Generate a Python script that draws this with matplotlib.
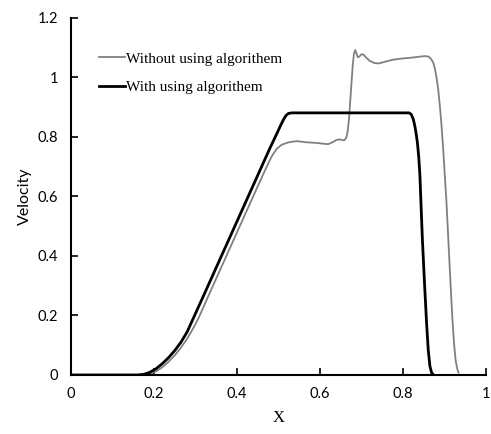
import matplotlib.pyplot as plt

# with algorithm (black)
x_with = [0.0, 0.16, 0.175, 0.19, 0.205, 0.22, 0.235, 0.25, 0.265, 0.28, 0.293,
          0.32, 0.36, 0.40, 0.44, 0.48, 0.495, 0.505, 0.512, 0.518, 0.524, 0.532,
          0.65, 0.815, 0.820, 0.825, 0.829, 0.832, 0.835, 0.838, 0.841, 0.844,
          0.847, 0.852, 0.857, 0.861, 0.865, 0.869, 0.874]
v_with = [0.0, 0.0, 0.002, 0.009, 0.021, 0.038, 0.058, 0.082, 0.11, 0.145, 0.185,
          0.268, 0.392, 0.516, 0.64, 0.764, 0.808, 0.838, 0.858, 0.872, 0.879, 0.881,
          0.881, 0.881, 0.876, 0.86, 0.835, 0.81, 0.78, 0.735, 0.67, 0.56,
          0.454, 0.31, 0.175, 0.085, 0.03, 0.008, 0.0]

# without algorithm (gray)
x_without = [0.0, 0.175, 0.19, 0.205, 0.22, 0.235, 0.25, 0.265, 0.28, 0.295, 0.307,
             0.33, 0.37, 0.41, 0.45, 0.475, 0.485, 0.496, 0.508, 0.524, 0.544,
             0.568, 0.592, 0.610, 0.620, 0.630, 0.640, 0.648, 0.655, 0.660,
             0.664, 0.667, 0.670, 0.673, 0.676, 0.679, 0.682, 0.685, 0.688, 0.691,
             0.695, 0.700, 0.705, 0.712, 0.720, 0.730, 0.741, 0.760, 0.777, 0.80,
             0.817, 0.835, 0.853, 0.862, 0.868, 0.873, 0.877, 0.881, 0.885, 0.889,
             0.893, 0.897, 0.901, 0.905, 0.910, 0.915, 0.919, 0.923, 0.927, 0.931,
             0.934]
v_without = [0.0, 0.0, 0.004, 0.012, 0.026, 0.044, 0.066, 0.092, 0.122, 0.158, 0.19,
             0.262, 0.386, 0.51, 0.634, 0.71, 0.738, 0.760, 0.774, 0.782, 0.786,
             0.782, 0.78, 0.777, 0.776, 0.782, 0.79, 0.792, 0.789, 0.79,
             0.80, 0.82, 0.86, 0.92, 0.98, 1.04, 1.08, 1.092, 1.082, 1.068,
             1.07, 1.078, 1.077, 1.066, 1.056, 1.049, 1.047, 1.054, 1.06, 1.064,
             1.066, 1.069, 1.072, 1.07, 1.062, 1.05, 1.03, 1.0, 0.96, 0.905,
             0.84, 0.76, 0.67, 0.58, 0.44, 0.30, 0.195, 0.11, 0.05, 0.02,
             0.008]

x_ticks = [0, 0.2, 0.4, 0.6, 0.8, 1.0]
x_labels = ["0", "0.2", "0.4", "0.6", "0.8", "1"]
y_ticks = [0, 0.2, 0.4, 0.6, 0.8, 1.0, 1.2]
y_labels = ["0", "0.2", "0.4", "0.6", "0.8", "1", "1.2"]

fig = plt.figure(figsize=(4.91, 4.34), dpi=100)
ax = fig.add_axes([0.1446, 0.136, 0.845, 0.8226])

ax.plot(x_without, v_without, color="#808080", lw=1.3, label="Without using algorithem")
ax.plot(x_with, v_with, color="black", lw=2.0, label="With using algorithem")

ax.set_xlim(0, 1)
ax.set_ylim(0, 1.2)
ax.set_xticks(x_ticks)
ax.set_xticklabels(x_labels, fontfamily="Lato", fontsize=10.5)
ax.set_yticks(y_ticks)
ax.set_yticklabels(y_labels, fontfamily="Lato", fontsize=10.5)
ax.tick_params(direction="in", length=5, width=1.2, pad=9)

for s in ["top", "right"]:
    ax.spines[s].set_visible(False)
for s in ["left", "bottom"]:
    ax.spines[s].set_linewidth(1.5)

ax.set_xlabel("X", fontfamily="Liberation Serif", fontsize=12, labelpad=6)
ax.set_ylabel("Velocity", fontfamily="Lato", fontsize=11.5, labelpad=4)

ax.legend(loc="upper left", bbox_to_anchor=(0.0675, 0.905), frameon=False,
          borderpad=0, borderaxespad=0, handlelength=1.7, handletextpad=0.05,
          labelspacing=0.96, prop={"family": "Liberation Serif", "size": 11})

fig.savefig("out.png", dpi=100)
